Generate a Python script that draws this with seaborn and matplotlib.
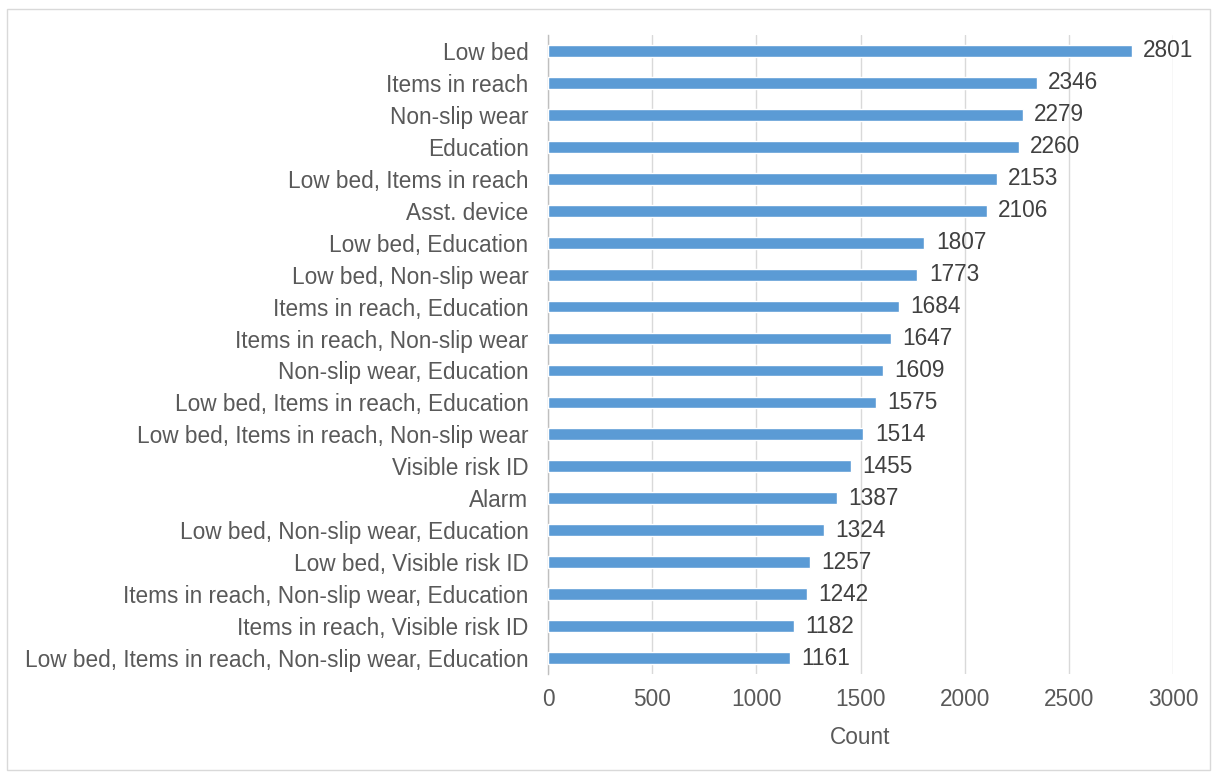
import matplotlib
matplotlib.use("Agg")
import matplotlib.pyplot as plt
import seaborn as sns
import pandas as pd
import numpy as np
from matplotlib.patches import Rectangle

categories = [
    "Low bed",
    "Items in reach",
    "Non-slip wear",
    "Education",
    "Low bed, Items in reach",
    "Asst. device",
    "Low bed, Education",
    "Low bed, Non-slip wear",
    "Items in reach, Education",
    "Items in reach, Non-slip wear",
    "Non-slip wear, Education",
    "Low bed, Items in reach, Education",
    "Low bed, Items in reach, Non-slip wear",
    "Visible risk ID",
    "Alarm",
    "Low bed, Non-slip wear, Education",
    "Low bed, Visible risk ID",
    "Items in reach, Non-slip wear, Education",
    "Items in reach, Visible risk ID",
    "Low bed, Items in reach, Non-slip wear, Education",
]
counts = [2801, 2346, 2279, 2260, 2153, 2106, 1807, 1773, 1684, 1647,
          1609, 1575, 1514, 1455, 1387, 1324, 1257, 1242, 1182, 1161]
x_ticks = [0, 500, 1000, 1500, 2000, 2500, 3000]

sns.set_theme(style="white")
plt.rcParams["font.family"] = ["Liberation Sans", "DejaVu Sans"]

FS = 16.3
df = pd.DataFrame({"category": categories, "count": counts})

fig = plt.figure(figsize=(12.12, 7.73), dpi=100)
ax = fig.add_axes([548 / 1212, 1 - 674 / 773, (1173 - 548) / 1212, (674 - 35) / 773])

sns.barplot(data=df, x="count", y="category", orient="h", color="#5B9BD5",
            saturation=1, width=0.37, ax=ax, zorder=3)

ax.set_xlim(0, 3000)
ax.set_ylim(len(categories) - 0.5, -0.5)
ax.set_xticks(x_ticks)
ax.set_xticklabels([str(t) for t in x_ticks])
ax.xaxis.grid(True, color="#d9d9d9", linewidth=1.0, zorder=0)
ax.yaxis.grid(False)
ax.set_axisbelow(True)

for s in ["top", "right", "bottom"]:
    ax.spines[s].set_visible(False)
ax.spines["left"].set_color("#bfbfbf")
ax.spines["left"].set_linewidth(1.0)

# category boundary tick marks on the vertical axis
ax.set_yticks(np.arange(len(categories)))
ax.set_yticklabels(categories)
ax.set_yticks(np.arange(len(categories) + 1) - 0.5, minor=True)
ax.tick_params(axis="y", which="major", length=0, pad=14, labelsize=FS, labelcolor="#595959")
ax.tick_params(axis="y", which="minor", length=5, width=1, color="#bfbfbf", direction="out")
ax.tick_params(axis="x", length=0, pad=10, labelsize=FS, labelcolor="#595959")

ax.set_xlabel("Count", fontsize=FS, color="#595959", labelpad=11)
ax.set_ylabel("")

for i, v in enumerate(counts):
    ax.text(v + 55, i, str(v), va="center", ha="left", fontsize=FS, color="#404040", zorder=4)

# outer chart frame
fig.patches.append(Rectangle((7 / 1212, 1 - 770 / 773), 1203 / 1212, 761 / 773,
                             transform=fig.transFigure, fill=False,
                             edgecolor="#d9d9d9", linewidth=1.0))

fig.savefig("out.png", dpi=100, facecolor="white")
